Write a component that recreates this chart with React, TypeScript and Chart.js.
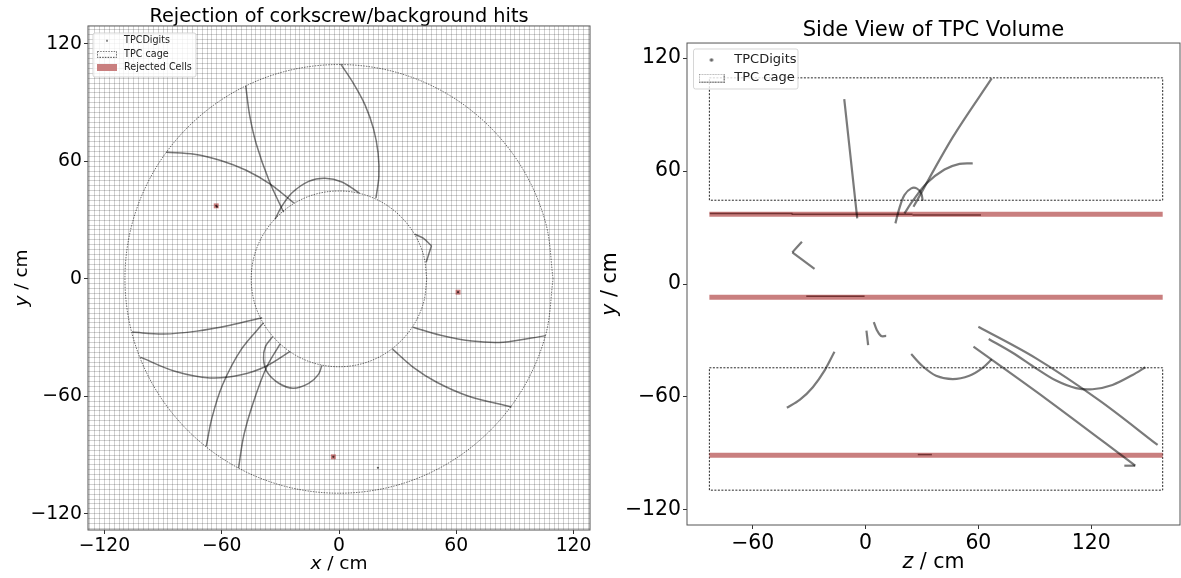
import React, { useEffect, useRef } from "react";
import { Chart, registerables } from "chart.js";

Chart.register(...registerables);

type XY = [number, number];

// ---- Cage outlines (cm) ----
const cageOuterXY: XY[] = [
  [109.5, 0], [105.8, 28.3], [94.8, 54.8], [77.4, 77.4], [54.8, 94.8], [28.3, 105.8],
  [0, 109.5], [-28.3, 105.8], [-54.8, 94.8], [-77.4, 77.4], [-94.8, 54.8], [-105.8, 28.3],
  [-109.5, 0], [-105.8, -28.3], [-94.8, -54.8], [-77.4, -77.4], [-54.8, -94.8], [-28.3, -105.8],
  [0, -109.5], [28.3, -105.8], [54.8, -94.8], [77.4, -77.4], [94.8, -54.8], [105.8, -28.3],
  [109.5, 0],
];
const cageInnerXY: XY[] = [
  [44.9, 0], [43.4, 11.6], [38.9, 22.4], [31.7, 31.7], [22.4, 38.9], [11.6, 43.4],
  [0, 44.9], [-11.6, 43.4], [-22.4, 38.9], [-31.7, 31.7], [-38.9, 22.4], [-43.4, 11.6],
  [-44.9, 0], [-43.4, -11.6], [-38.9, -22.4], [-31.7, -31.7], [-22.4, -38.9], [-11.6, -43.4],
  [0, -44.9], [11.6, -43.4], [22.4, -38.9], [31.7, -31.7], [38.9, -22.4], [43.4, -11.6],
  [44.9, 0],
];
const cageUpperZY: XY[] = [[-83, 109.5], [158, 109.5], [158, 44.5], [-83, 44.5], [-83, 109.5]];
const cageLowerZY: XY[] = [[-83, -44.5], [158, -44.5], [158, -109.5], [-83, -109.5], [-83, -44.5]];

// ---- Front view: digit tracks (x, y in cm) ----
const frontTracks: XY[][] = [
  [[0.9, 109.7], [7.3, 100], [13.3, 88.9], [17.7, 76.5], [20, 64.2], [20.4, 52.5], [18.9, 41.2]],
  [[-47.7, 98.6], [-45.7, 83.5], [-42.2, 68.5], [-35.7, 50], [-28.3, 34]],
  [[-88.4, 64.7], [-74, 63.7], [-60.5, 60.5], [-47.5, 55.5], [-35, 48.3], [-23, 38.7]],
  [[-32.7, 30.5], [-29, 37.5], [-24, 44], [-15.5, 49.8], [-7.2, 51.4], [1.5, 49.5], [10.4, 43.8]],
  [[38.8, 22.8], [43.1, 20.8], [47.3, 16.9]],
  [[47.3, 16.9], [44.6, 8.5]],
  [[-105.9, -27.2], [-89.7, -28.2], [-72.7, -26.7], [-55.7, -23.7], [-39.3, -19.9]],
  [[-101.6, -40], [-84, -47.2], [-65.9, -50.6], [-50, -49], [-37, -44.5], [-25, -37.1]],
  [[-67.9, -85.6], [-65, -71], [-59.5, -54], [-50, -36], [-38.7, -22.6]],
  [[-51.4, -96.7], [-48.7, -80], [-43.8, -63], [-36.9, -44.8], [-30.1, -33.2]],
  [[-33.9, -29.5], [-37.6, -34.5], [-38.6, -40.9], [-36.8, -47.5], [-31, -53.2], [-23.5, -55.9], [-15.5, -53.4], [-10.5, -48.8], [-8.8, -44.3]],
  [[37.9, -24.7], [52, -28.8], [68, -31.8], [84, -32.4], [105.7, -29]],
  [[27.4, -35.9], [38, -45.2], [50, -52.8], [66, -59.8], [88.2, -65.5]],
];
const frontLooseDigits: XY[] = [[19.9, -96.5], [-62.8, 37.3], [-62.4, 36.8], [60.9, -6.8], [-2.9, -90.9]];
const rejectedCellsXY: XY[] = [[-62.8, 37.3], [60.9, -6.8], [-2.9, -90.9]];

// ---- Side view: digit tracks (z, y in cm) ----
const sideTracks: XY[][] = [
  [[-11.3, 98.2], [-4.4, 34.9]],
  [[67.1, 109.2], [46.4, 78], [25.5, 41]],
  [[57, 64.1], [50, 63.8], [42, 60.8], [32.5, 53.5], [25, 44], [20.7, 37.5]],
  [[15.9, 32.2], [18, 40.2], [20.7, 47.3], [24.3, 50.8], [27.2, 50.8], [29.6, 48.2], [30.4, 44.2]],
  [[-33.8, 22.5], [-38.9, 16.8]],
  [[-38.9, 16.8], [-27.1, 8]],
  [[-41.8, -65.7], [-35, -61.6], [-28, -54.8], [-21.8, -46], [-16.5, -36]],
  [[0.5, -24.8], [1.4, -32.4]],
  [[4.4, -20.2], [6, -24.4], [8.3, -27.6], [11, -27.6]],
  [[24.3, -37.2], [30.4, -43.7], [37.5, -48.7], [46.4, -50.5], [55.2, -48.7], [62.3, -44.5], [67.1, -40]],
  [[57.4, -33.3], [96, -61], [143.4, -96.5]],
  [[137.6, -96.5], [143.4, -96.5]],
  [[60, -22.7], [90.7, -39.5], [124.3, -61.8], [155.3, -85.5]],
  [[65.5, -29.2], [78.2, -36.5], [90.7, -44.8], [101.3, -51.3], [111.9, -55.3], [120.7, -55.9], [131.3, -53.6], [142, -48.3], [148.8, -44.2]],
];
const sideRingHits: XY[][] = [
  [[-82.8, 37.5], [-38.8, 37.5]],
  [[-39.3, 37], [25, 37]],
  [[25, 36.7], [61.4, 36.6]],
  [[-31.5, -6.5], [-0.5, -6.5]],
  [[27.8, -90.6], [35.3, -90.6]],
];
const rejectedBandsZY: XY[][] = [
  [[-83, 37], [158, 37]],
  [[-83, -7], [158, -7]],
  [[-83, -91], [158, -91]],
];

// ---- Axes ----
const frontMajorTicks = [-120, -60, 0, 60, 120];
const sideYTicks = [-120, -60, 0, 60, 120];
const sideZTicks = [-60, 0, 60, 120];
const meshLines = [
  -127.5, -125, -122.5, -120, -117.5, -115, -112.5, -110, -107.5, -105, -102.5, -100, -97.5, -95, -92.5, -90,
  -87.5, -85, -82.5, -80, -77.5, -75, -72.5, -70, -67.5, -65, -62.5, -60, -57.5, -55, -52.5, -50, -47.5, -45,
  -42.5, -40, -37.5, -35, -32.5, -30, -27.5, -25, -22.5, -20, -17.5, -15, -12.5, -10, -7.5, -5, -2.5, 0, 2.5,
  5, 7.5, 10, 12.5, 15, 17.5, 20, 22.5, 25, 27.5, 30, 32.5, 35, 37.5, 40, 42.5, 45, 47.5, 50, 52.5, 55, 57.5,
  60, 62.5, 65, 67.5, 70, 72.5, 75, 77.5, 80, 82.5, 85, 87.5, 90, 92.5, 95, 97.5, 100, 102.5, 105, 107.5, 110,
  112.5, 115, 117.5, 120, 122.5, 125, 127.5,
];

const FONT = "'DejaVu Sans'";
const GREY = "rgba(0,0,0,0.52)";
const RED = "rgba(165,42,42,0.6)";
const fmt = (v: number) => String(v).replace("-", "\u2212");
const pts = (a: XY[]) => a.map(([x, y]) => ({ x, y }));

function handle(w: number, h: number, draw: (c: CanvasRenderingContext2D) => void) {
  const cv = document.createElement("canvas");
  cv.width = w;
  cv.height = h;
  draw(cv.getContext("2d") as CanvasRenderingContext2D);
  return cv;
}
const dotHandle = (r: number) =>
  handle(8, 8, (c) => {
    c.fillStyle = "rgba(0,0,0,0.6)";
    c.beginPath();
    c.arc(4, 4, r, 0, Math.PI * 2);
    c.fill();
  });
const cageHandle = (w: number, h: number) =>
  handle(w, h, (c) => {
    c.strokeStyle = "#333";
    c.lineWidth = 0.8;
    c.setLineDash([1.5, 1.2]);
    c.strokeRect(0.5, 0.5, w - 1, h - 1);
  });
const redHandle = (w: number, h: number) =>
  handle(w, h, (c) => {
    c.fillStyle = "#c97f7f";
    c.fillRect(0, 0, w, h);
  });

function decorations(o: {
  xVar: string; yVar: string; size: number; xTitleY: number; yTitleX: number;
  frame: [number, number, number, number]; legendAt: [number, number];
}) {
  return {
    id: "decorations",
    beforeLayout(chart: any) {
      const lg = chart.legend;
      if (!lg || lg.__patched) return;
      lg.__patched = true;
      lg._layers = () => [
        {
          z: 10,
          draw(area: any) {
            const c = chart.ctx;
            const [fx, fy, fw, fh] = o.frame;
            c.save();
            c.fillStyle = "rgba(255,255,255,0.8)";
            c.strokeStyle = "rgba(204,204,204,0.8)";
            c.lineWidth = 1;
            c.beginPath();
            c.roundRect(fx, fy, fw, fh, 2);
            c.fill();
            c.stroke();
            c.restore();
            lg.left = o.legendAt[0];
            lg.top = o.legendAt[1];
            lg.draw(area);
          },
        },
      ];
    },
    afterDatasetsDraw(chart: any) {
      const { ctx: c, chartArea: a } = chart;
      c.save();
      c.strokeStyle = "#555";
      c.lineWidth = 1;
      c.strokeRect(a.left, a.top, a.right - a.left, a.bottom - a.top);
      c.restore();
    },
    afterDraw(chart: any) {
      const { ctx: c, chartArea: a } = chart;
      const run = (variable: string, cx: number, cy: number, rot: number) => {
        const rest = " / cm";
        c.save();
        c.translate(cx, cy);
        c.rotate(rot);
        c.fillStyle = "#000";
        c.textBaseline = "middle";
        c.textAlign = "left";
        c.font = `italic ${o.size}px ${FONT}`;
        const w1 = c.measureText(variable).width;
        c.font = `${o.size}px ${FONT}`;
        const w2 = c.measureText(rest).width;
        c.font = `italic ${o.size}px ${FONT}`;
        c.fillText(variable, -(w1 + w2) / 2, 0);
        c.font = `${o.size}px ${FONT}`;
        c.fillText(rest, -(w1 + w2) / 2 + w1, 0);
        c.restore();
      };
      run(o.xVar, (a.left + a.right) / 2, o.xTitleY, 0);
      run(o.yVar, o.yTitleX, (a.top + a.bottom) / 2, -Math.PI / 2);
    },
  };
}

function axis(opts: {
  position: string; min: number; max: number; lines: number[]; majors: number[];
  fitSize: number; tickSize: number; mesh: boolean; pad: number;
}) {
  const vertical = opts.position === "left";
  return {
    type: "linear",
    position: opts.position,
    min: opts.min,
    max: opts.max,
    afterBuildTicks(s: any) {
      s.ticks = opts.lines.map((value) => ({ value }));
    },
    afterFit(s: any) {
      if (vertical) s.width = opts.fitSize;
      else s.height = opts.fitSize;
    },
    border: { display: false },
    grid: {
      drawOnChartArea: opts.mesh,
      color: "rgba(0,0,0,0.18)",
      lineWidth: 1,
      drawTicks: true,
      tickLength: 4,
      tickColor: (ctx: any) => (opts.majors.includes(ctx.tick?.value) ? "#333" : "rgba(0,0,0,0)"),
    },
    ticks: {
      autoSkip: false,
      maxRotation: 0,
      padding: opts.pad,
      color: "#000",
      font: { family: FONT, size: opts.tickSize },
      callback: (v: number) => (opts.majors.includes(v) ? fmt(v) : ""),
    },
  };
}

const lineDs = (label: string, data: XY[], color: string, width: number, extra: object = {}) => ({
  label,
  data: pts(data),
  showLine: true,
  pointRadius: 0,
  borderColor: color,
  borderWidth: width,
  tension: 0.33,
  ...extra,
});

export default function App() {
  const leftRef = useRef<HTMLCanvasElement>(null);
  const rightRef = useRef<HTMLCanvasElement>(null);

  useEffect(() => {
    const left = new Chart(leftRef.current as any, {
      type: "scatter",
      data: {
        datasets: [
          ...frontTracks.map((t, i) => lineDs(`TPCDigits ${i}`, t, GREY, 1.5)),
          {
            label: "TPCDigits loose",
            data: pts(frontLooseDigits),
            pointRadius: 1.1,
            pointBackgroundColor: "rgba(0,0,0,0.65)",
            pointBorderWidth: 0,
          },
          {
            label: "Rejected Cells",
            data: pts(rejectedCellsXY),
            pointStyle: "rect",
            pointRadius: 3.5,
            pointBackgroundColor: RED,
            pointBorderWidth: 0,
          },
          lineDs("TPC cage outer", cageOuterXY, "rgba(0,0,0,0.7)", 0.8, { tension: 0.337, borderDash: [1.5, 1.2] }),
          lineDs("TPC cage inner", cageInnerXY, "rgba(0,0,0,0.7)", 0.8, { tension: 0.337, borderDash: [1.5, 1.2] }),
        ],
      },
      options: {
        animation: false,
        responsive: false,
        layout: { padding: { right: 10, left: 0, top: 0, bottom: 0 }, autoPadding: false },
        scales: {
          x: axis({ position: "bottom", min: -128.4, max: 128.4, lines: meshLines, majors: frontMajorTicks, fitSize: 48, tickSize: 18.8, mesh: true, pad: 1 }),
          y: axis({ position: "left", min: -128.3, max: 129.2, lines: meshLines, majors: frontMajorTicks, fitSize: 88, tickSize: 18.8, mesh: true, pad: 2 }),
        } as any,
        plugins: {
          tooltip: { enabled: false },
          title: {
            display: true,
            text: "Rejection of corkscrew/background hits",
            fullSize: false,
            color: "#000",
            font: { family: FONT, size: 19.3, weight: "normal", lineHeight: 1.2 },
            padding: { top: 5.5, bottom: -2.7 },
          },
          legend: {
            display: true,
            position: "chartArea",
            align: "start",
            labels: {
              usePointStyle: true,
              pointStyleWidth: 24.6,
              padding: 4,
              color: "#000",
              font: { family: FONT, size: 9.6 },
              generateLabels: () => [
                { text: "TPCDigits", pointStyle: dotHandle(1), fontColor: "#222" },
                { text: "TPC cage", pointStyle: cageHandle(20, 7), fontColor: "#222" },
                { text: "Rejected Cells", pointStyle: redHandle(20, 7), fontColor: "#222" },
              ] as any,
            },
          },
        },
      } as any,
      plugins: [
        decorations({
          xVar: "x", yVar: "y", size: 18.5, xTitleY: 564, yTitleX: 22,
          frame: [93, 33, 103, 44], legendAt: [90.7, 31.9],
        }),
      ] as any,
    });

    const right = new Chart(rightRef.current as any, {
      type: "scatter",
      data: {
        datasets: [
          ...sideTracks.map((t, i) => lineDs(`TPCDigits ${i}`, t, GREY, 2.2)),
          ...sideRingHits.map((t, i) => lineDs(`TPCDigits ring ${i}`, t, "rgba(70,10,10,0.65)", 1.5, { tension: 0 })),
          ...rejectedBandsZY.map((t, i) => lineDs(`Rejected ${i}`, t, RED, 5, { tension: 0, borderCapStyle: "butt" })),
          lineDs("TPC cage upper", cageUpperZY, "rgba(0,0,0,0.85)", 1, { tension: 0, borderDash: [2, 1.5] }),
          lineDs("TPC cage lower", cageLowerZY, "rgba(0,0,0,0.85)", 1, { tension: 0, borderDash: [2, 1.5] }),
        ],
      },
      options: {
        animation: false,
        responsive: false,
        layout: { padding: { right: 1, left: 0, top: 0, bottom: 0 }, autoPadding: false },
        scales: {
          x: axis({ position: "bottom", min: -94.9, max: 167.2, lines: sideZTicks, majors: sideZTicks, fitSize: 53, tickSize: 20.4, mesh: false, pad: 2 }),
          y: axis({ position: "left", min: -128, max: 128, lines: sideYTicks, majors: sideYTicks, fitSize: 87, tickSize: 20.4, mesh: false, pad: 2 }),
        } as any,
        plugins: {
          tooltip: { enabled: false },
          title: {
            display: true,
            text: "Side View of TPC Volume",
            fullSize: false,
            color: "#000",
            font: { family: FONT, size: 21.1, weight: "normal", lineHeight: 1.2 },
            padding: { top: 18.3, bottom: -0.6 },
          },
          legend: {
            display: true,
            position: "chartArea",
            align: "start",
            labels: {
              usePointStyle: true,
              pointStyleWidth: 32.6,
              padding: 5,
              color: "#000",
              font: { family: FONT, size: 13 },
              generateLabels: () => [
                { text: "TPCDigits", pointStyle: dotHandle(1.8), fontColor: "#222" },
                { text: "TPC cage", pointStyle: cageHandle(26, 9), fontColor: "#222" },
              ] as any,
            },
          },
        },
      } as any,
      plugins: [
        decorations({
          xVar: "z", yVar: "y", size: 20.5, xTitleY: 563, yTitleX: 11,
          frame: [93.5, 49, 104.5, 40], legendAt: [90.2, 48.5],
        }),
      ] as any,
    });

    return () => {
      left.destroy();
      right.destroy();
    };
  }, []);

  return (
    <div style={{ position: "absolute", left: 0, top: 0, width: 1181, height: 578, background: "#fff", overflow: "hidden" }}>
      <canvas ref={leftRef} width={600} height={578} style={{ position: "absolute", left: 0, top: 0 }} />
      <canvas ref={rightRef} width={581} height={578} style={{ position: "absolute", left: 600, top: 0 }} />
    </div>
  );
}
